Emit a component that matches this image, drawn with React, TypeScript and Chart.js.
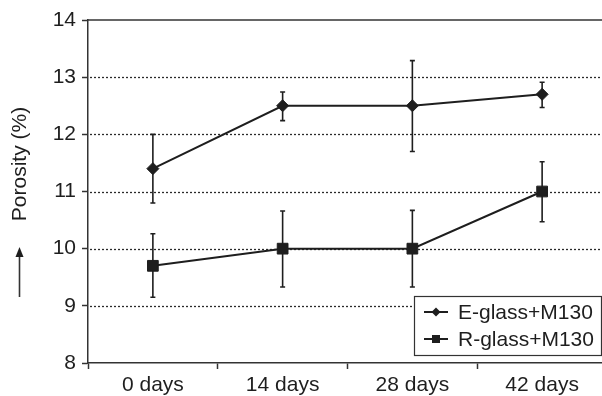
import { useEffect, useRef } from "react";
import { Chart, registerables } from "chart.js";

Chart.register(...registerables);

const categories = ["0 days", "14 days", "28 days", "42 days"];
const seriesLabels = ["E-glass+M130", "R-glass+M130"];
const eGlass = [11.4, 12.5, 12.5, 12.7];
const eGlassHigh = [12.0, 12.74, 13.29, 12.91];
const eGlassLow = [10.8, 12.24, 11.7, 12.47];
const rGlass = [9.7, 10.0, 10.0, 11.0];
const rGlassHigh = [10.26, 10.66, 10.67, 11.52];
const rGlassLow = [9.15, 9.33, 9.33, 10.47];
const yMin = 8;
const yMax = 14;
const yStep = 1;
const yTitle = "Porosity (%)";

const FONT = "'Liberation Sans', Arial, Helvetica, sans-serif";
const INK = "#1e1e1e";

const errorLows = [eGlassLow, rGlassLow];
const errorHighs = [eGlassHigh, rGlassHigh];

const gridPlugin = {
  id: "dottedGrid",
  beforeDatasetsDraw(chart: any) {
    const { ctx, chartArea } = chart;
    const y = chart.scales.y;
    ctx.save();
    ctx.strokeStyle = "#2a2a2a";
    ctx.lineWidth = 1.3;
    ctx.setLineDash([2, 2]);
    y.ticks.forEach((t: any) => {
      if (t.value === yMin || t.value === yMax) return;
      const py = Math.round(y.getPixelForValue(t.value)) + 0.5;
      ctx.beginPath();
      ctx.moveTo(chartArea.left + 2, py);
      ctx.lineTo(chartArea.right, py);
      ctx.stroke();
    });
    ctx.setLineDash([]);
    ctx.lineWidth = 1.5;
    ctx.strokeStyle = "#333";
    const top = y.getPixelForValue(yMax);
    ctx.beginPath();
    ctx.moveTo(chartArea.left, top);
    ctx.lineTo(chartArea.right, top);
    ctx.stroke();
    ctx.restore();
  },
};

const errorPlugin = {
  id: "errorBars",
  beforeDatasetsDraw(chart: any) {
    const { ctx } = chart;
    const x = chart.scales.x;
    const y = chart.scales.y;
    ctx.save();
    ctx.strokeStyle = INK;
    ctx.lineWidth = 1.6;
    chart.data.datasets.forEach((_: any, di: number) => {
      categories.forEach((_c, i) => {
        const px = x.getPixelForValue(i);
        const hi = y.getPixelForValue(errorHighs[di][i]);
        const lo = y.getPixelForValue(errorLows[di][i]);
        ctx.beginPath();
        ctx.moveTo(px, hi);
        ctx.lineTo(px, lo);
        ctx.moveTo(px - 2.5, hi);
        ctx.lineTo(px + 2.5, hi);
        ctx.moveTo(px - 2.5, lo);
        ctx.lineTo(px + 2.5, lo);
        ctx.stroke();
      });
    });
    ctx.restore();
  },
};

const titlePlugin = {
  id: "yTitleArrow",
  afterDraw(chart: any) {
    const { ctx } = chart;
    ctx.save();
    ctx.fillStyle = INK;
    ctx.strokeStyle = INK;
    ctx.font = `21px ${FONT}`;
    ctx.translate(20, 164);
    ctx.rotate(-Math.PI / 2);
    ctx.textAlign = "center";
    ctx.textBaseline = "middle";
    ctx.fillText(yTitle, 0, 0);
    ctx.restore();
    ctx.save();
    ctx.strokeStyle = "#333";
    ctx.fillStyle = INK;
    ctx.lineWidth = 1.6;
    ctx.beginPath();
    ctx.moveTo(19.5, 297);
    ctx.lineTo(19.5, 254);
    ctx.stroke();
    ctx.beginPath();
    ctx.moveTo(19.5, 247);
    ctx.lineTo(15.5, 257);
    ctx.lineTo(23.5, 257);
    ctx.closePath();
    ctx.fill();
    ctx.restore();
  },
};

const legendPlugin = {
  id: "boxLegend",
  afterDraw(chart: any) {
    const { ctx } = chart;
    const bx = 414.5, by = 296.5, bw = 187, bh = 59;
    ctx.save();
    ctx.fillStyle = "#fff";
    ctx.fillRect(bx, by, bw, bh);
    ctx.strokeStyle = "#333";
    ctx.lineWidth = 1.2;
    ctx.strokeRect(bx, by, bw, bh);
    ctx.font = `21px ${FONT}`;
    ctx.textBaseline = "middle";
    ctx.textAlign = "left";
    chart.data.datasets.forEach((ds: any, i: number) => {
      const cy = 312 + i * 27;
      ctx.strokeStyle = INK;
      ctx.fillStyle = INK;
      ctx.lineWidth = 2;
      ctx.beginPath();
      ctx.moveTo(424, cy);
      ctx.lineTo(448, cy);
      ctx.stroke();
      ctx.beginPath();
      if (ds.pointStyle === "rectRot") {
        const r = 4.5;
        ctx.moveTo(436, cy - r);
        ctx.lineTo(436 + r, cy);
        ctx.lineTo(436, cy + r);
        ctx.lineTo(436 - r, cy);
        ctx.closePath();
      } else {
        ctx.rect(432, cy - 4, 8, 8);
      }
      ctx.fill();
      ctx.fillText(ds.label, 458, cy + 1);
    });
    ctx.restore();
  },
};

export default function App() {
  const ref = useRef<HTMLCanvasElement | null>(null);
  useEffect(() => {
    if (!ref.current) return;
    const chart = new Chart(ref.current, {
      type: "line",
      data: {
        labels: categories,
        datasets: [
          {
            label: seriesLabels[0],
            data: eGlass,
            borderColor: INK,
            backgroundColor: INK,
            borderWidth: 2,
            pointStyle: "rectRot",
            pointRadius: 6,
            pointBorderWidth: 1,
            pointBackgroundColor: INK,
            pointBorderColor: INK,
          },
          {
            label: seriesLabels[1],
            data: rGlass,
            borderColor: INK,
            backgroundColor: INK,
            borderWidth: 2,
            pointStyle: "rect",
            pointRadius: 7.6,
            pointBorderWidth: 1,
            pointBackgroundColor: INK,
            pointBorderColor: INK,
          },
        ],
      },
      options: {
        responsive: false,
        animation: false,
        layout: { padding: { left: 0, top: 20, right: 13, bottom: 0 } },
        plugins: { legend: { display: false }, tooltip: { enabled: false } },
        scales: {
          x: {
            type: "category",
            offset: true,
            grid: {
              offset: true,
              drawOnChartArea: false,
              tickLength: 6,
              tickColor: "#333",
              tickWidth: 1.5,
            },
            border: { color: "#333", width: 1.5 },
            ticks: { color: INK, font: { family: FONT, size: 21 }, padding: 4 },
            afterFit: (s: any) => {
              s.height = 33;
            },
          },
          y: {
            min: yMin,
            max: yMax,
            ticks: {
              stepSize: yStep,
              color: INK,
              font: { family: FONT, size: 21 },
              padding: 6,
            },
            grid: {
              drawOnChartArea: false,
              tickLength: 6,
              tickColor: "#333",
              tickWidth: 1.5,
            },
            border: { color: "#333", width: 1.5 },
            afterFit: (s: any) => {
              s.width = 88;
            },
          },
        },
      },
      plugins: [gridPlugin, errorPlugin, titlePlugin, legendPlugin],
    });
    return () => chart.destroy();
  }, []);
  return (
    <div
      style={{
        position: "absolute",
        left: 0,
        top: 0,
        width: 602,
        height: 396,
        overflow: "hidden",
        background: "#fff",
      }}
    >
      <canvas ref={ref} width={620} height={396} style={{ display: "block" }} />
    </div>
  );
}
